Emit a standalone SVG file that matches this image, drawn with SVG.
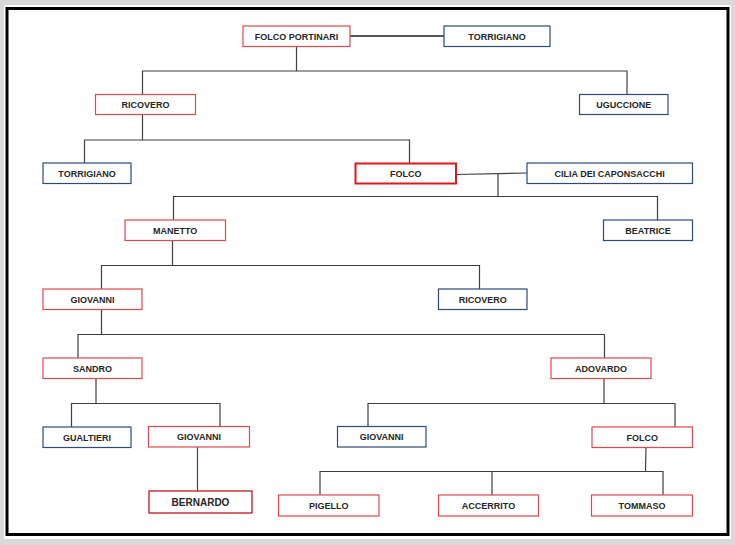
<svg xmlns="http://www.w3.org/2000/svg" width="735" height="545" viewBox="0 0 735 545">
<style>
.bg{fill:#d9d9d9}
.sheet{fill:#ffffff}
.frame{fill:none;stroke:#000000;stroke-width:3}
.n rect{fill:#ffffff;stroke-width:1.2}
.r rect{stroke:#e2474c}
.b rect{stroke:#2e4a7d}
.rt rect{stroke:#e3161c;stroke-width:2}
.rd rect{stroke:#c0161c;stroke-width:1.3}
.n text{font-family:"Liberation Sans",Arial,sans-serif;font-weight:bold;font-size:9px;fill:#262626;text-anchor:middle}
.conn path{fill:none;stroke:#3f3f3f;stroke-width:1.2}
.conn .thick{stroke:#555555;stroke-width:2}
.conn .blue{stroke:#2e4a7d}
</style>
<rect class="bg" x="0" y="0" width="735" height="545"/>
<rect class="sheet" x="4" y="5" width="727" height="534"/>
<rect class="frame" x="7" y="8.5" width="721" height="526"/>

<g class="conn">
<path class="thick" d="M350 36 H444"/>
<path d="M296.5 46 V71 M142.5 94.5 V71 H627 V94.5"/>
<path d="M142.5 114.5 V140 M84.5 163 V140 H409.5 V163"/>
<path d="M456 174.5 L527 173 M498 173.8 V196.5 M173.5 220 V196.5 H657.5 V220"/>
<path d="M172.5 240 V265.5 M101.5 289 V265.5 H479.5 V289"/>
<path d="M101.5 309 V334.5 M78 358 V334.5 H604.5 V358"/>
<path d="M96 378 V403.5 M71.5 427 V403.5 H220 V427"/>
<path d="M604 378 V403.5 M368 427 V403.5 H675 V427"/>
<path class="blue" d="M197.5 447 V491"/>
<path d="M646 447 L645.5 471.5 M320 495 V471.5 H663 V495 M492 471.5 V495"/>
</g>

<g id="folco-portinari" class="n r"><rect x="243" y="26" width="107" height="20.5"/><text x="296.5" y="39.5">FOLCO PORTINARI</text></g>
<g id="torrigiano-1" class="n b"><rect x="444" y="26" width="106" height="20.5"/><text x="497" y="39.5">TORRIGIANO</text></g>
<g id="ricovero-1" class="n r"><rect x="95.5" y="94.5" width="100" height="20"/><text x="145.5" y="107.8">RICOVERO</text></g>
<g id="uguccione" class="n b"><rect x="579.5" y="94.5" width="88.5" height="20"/><text x="623.7" y="107.8">UGUCCIONE</text></g>
<g id="torrigiano-2" class="n b"><rect x="43" y="163" width="88" height="20.5"/><text x="87" y="176.5">TORRIGIANO</text></g>
<g id="folco-1" class="n rt"><rect x="355.5" y="163.5" width="100.5" height="20"/><text x="405.7" y="176.8">FOLCO</text></g>
<g id="cilia" class="n b"><rect x="527" y="163" width="165.5" height="20.5"/><text x="609.7" y="176.5">CILIA DEI CAPONSACCHI</text></g>
<g id="manetto" class="n r"><rect x="125" y="220" width="100.5" height="20.5"/><text x="175.2" y="233.5">MANETTO</text></g>
<g id="beatrice" class="n b"><rect x="603.5" y="220" width="89" height="20.5"/><text x="648" y="233.5">BEATRICE</text></g>
<g id="giovanni-1" class="n r"><rect x="43" y="289" width="99" height="20.5"/><text x="92.5" y="302.5">GIOVANNI</text></g>
<g id="ricovero-2" class="n b"><rect x="438.5" y="289" width="88.5" height="20.5"/><text x="482.7" y="302.5">RICOVERO</text></g>
<g id="sandro" class="n r"><rect x="43" y="358" width="99" height="20.5"/><text x="92.5" y="371.5">SANDRO</text></g>
<g id="adovardo" class="n r"><rect x="551" y="358" width="100" height="20.5"/><text x="601" y="371.5">ADOVARDO</text></g>
<g id="gualtieri" class="n b"><rect x="43" y="427" width="88" height="20.5"/><text x="87" y="440.5">GUALTIERI</text></g>
<g id="giovanni-2" class="n r"><rect x="148.5" y="426.5" width="101" height="20.5"/><text x="199" y="440">GIOVANNI</text></g>
<g id="giovanni-3" class="n b"><rect x="337.5" y="426.5" width="88.5" height="20.5"/><text x="381.7" y="440">GIOVANNI</text></g>
<g id="folco-2" class="n r"><rect x="592" y="427" width="100.5" height="20.5"/><text x="642.2" y="440.5">FOLCO</text></g>
<g id="bernardo" class="n rd"><rect x="149" y="491" width="103" height="22"/><text x="200.5" y="505.5" style="font-size:10px">BERNARDO</text></g>
<g id="pigello" class="n r"><rect x="278.5" y="495" width="100.5" height="21"/><text x="328.7" y="508.8">PIGELLO</text></g>
<g id="accerrito" class="n r"><rect x="438.5" y="495" width="100" height="21"/><text x="488.5" y="508.8">ACCERRITO</text></g>
<g id="tommaso" class="n r"><rect x="591.5" y="495" width="101" height="21"/><text x="642" y="508.8">TOMMASO</text></g>
</svg>
